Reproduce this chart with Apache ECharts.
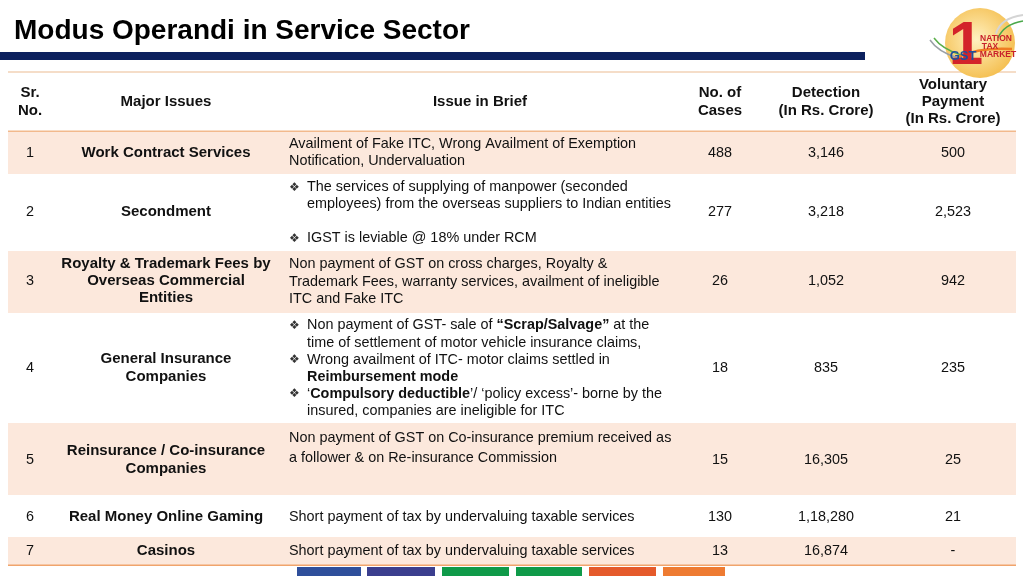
<!DOCTYPE html>
<html><head><meta charset="utf-8">
<script src="https://cdn.jsdelivr.net/npm/echarts@6/dist/echarts.min.js"></script>
<style>html,body{margin:0;padding:0;background:#fff}#c{width:1024px;height:576px}</style>
</head><body><div id="c"></div>
<script>
// ---------- data ----------
const title = 'Modus Operandi in Service Sector';
const headerLabels = ['Sr.\nNo.', 'Major Issues', 'Issue in Brief', 'No. of\nCases', 'Detection\n(In Rs. Crore)', 'Voluntary\nPayment\n(In Rs. Crore)'];
const srNo = ['1', '2', '3', '4', '5', '6', '7'];
const majorIssues = [
  'Work Contract Services',
  'Secondment',
  'Royalty & Trademark Fees by\nOverseas Commercial\nEntities',
  'General Insurance\nCompanies',
  'Reinsurance / Co-insurance\nCompanies',
  'Real Money Online Gaming',
  'Casinos'
];
const issueInBrief = [
  'Availment of Fake ITC, Wrong Availment of Exemption\nNotification, Undervaluation',
  '{bul|❖}The services of supplying of manpower (seconded\n{ind| }employees) from the overseas suppliers to Indian entities\n\n{bul|❖}IGST is leviable @ 18% under RCM',
  'Non payment of GST on cross charges, Royalty &\nTrademark Fees, warranty services, availment of ineligible\nITC and Fake ITC',
  '{bul|❖}Non payment of GST- sale of {b|“Scrap/Salvage”} at the\n{ind| }time of settlement of motor vehicle insurance claims,\n{bul|❖}Wrong availment of ITC- motor claims settled in\n{ind| }{b|Reimbursement mode}\n{bul|❖}‘{b|Compulsory deductible}’/ ‘policy excess’- borne by the\n{ind| }insured, companies are ineligible for ITC',
  'Non payment of GST on Co-insurance premium received as\na follower & on Re-insurance Commission',
  'Short payment of tax by undervaluing taxable services',
  'Short payment of tax by undervaluing taxable services'
];
const noOfCases = ['488', '277', '26', '18', '15', '130', '13'];
const detection = ['3,146', '3,218', '1,052', '835', '16,305', '1,18,280', '16,874'];
const voluntaryPayment = ['500', '2,523', '942', '235', '25', '21', '-'];

// ---------- layout ----------
const TABLE_L = 8, TABLE_R = 1016;
const rowEdges = [131, 174, 251, 313, 423, 495, 537, 565];
const rowMid = [153, 212, 281, 368, 460, 517, 551];
const issueMid = [153, 213, 282, 368.5, 448, 517, 551];
const issueLineH = [17, 17, 17.5, 17.2, 20, 17, 17];
const colX = [30, 166, 289, 720, 826, 953];
const headerX = [30, 166, 480, 720, 826, 953];
const HEADER_Y = 102;
const PEACH = '#fce8dc';
const FONT = 'Liberation Sans';
const FS = 14.4;
const BULLET_W = 18;

function renderRow(params, api) {
  const i = params.dataIndex;
  const p0 = api.coord([TABLE_L, rowEdges[i]]);
  const p1 = api.coord([TABLE_R, rowEdges[i + 1]]);
  const children = [];
  if (i % 2 === 0) {
    children.push({ type: 'rect', shape: { x: p0[0], y: p0[1], width: p1[0] - p0[0], height: p1[1] - p0[1] }, style: { fill: PEACH } });
  }
  const cell = (col, txt, bold, y, extra) => {
    const c = api.coord([colX[col], y]);
    children.push({
      type: 'text', x: c[0], y: c[1],
      style: Object.assign({
        text: txt, fill: '#111', fontFamily: FONT, fontSize: bold ? 15 : FS,
        fontWeight: bold ? 'bold' : 'normal', align: 'center', verticalAlign: 'middle', lineHeight: 17.3
      }, extra || {})
    });
  };
  cell(0, srNo[i], false, rowMid[i]);
  cell(1, majorIssues[i], true, rowMid[i]);
  cell(2, issueInBrief[i], false, issueMid[i], {
    align: 'left', lineHeight: issueLineH[i],
    rich: {
      b: { fontFamily: FONT, fontSize: FS, fontWeight: 'bold', fill: '#111', lineHeight: issueLineH[i] },
      bul: { fontFamily: 'DejaVu Sans', fontSize: 12, fill: '#333', width: BULLET_W, lineHeight: issueLineH[i] },
      ind: { fontFamily: FONT, fontSize: FS, width: BULLET_W, lineHeight: issueLineH[i] }
    }
  });
  cell(3, noOfCases[i], false, rowMid[i]);
  cell(4, detection[i], false, rowMid[i]);
  cell(5, voluntaryPayment[i], false, rowMid[i]);
  return { type: 'group', children };
}

const graphics = [];
graphics.push({ type: 'text', x: 14, y: 31, z: 10, style: { text: title, fontFamily: FONT, fontSize: 28, fontWeight: 'bold', fill: '#000', align: 'left', verticalAlign: 'middle', textAlign: 'left', textVerticalAlign: 'middle' } });
graphics.push({ type: 'rect', z: 10, shape: { x: 0, y: 52, width: 865, height: 8 }, style: { fill: '#0c215e' } });
// table lines
graphics.push({ type: 'rect', z: 10, shape: { x: TABLE_L, y: 71, width: TABLE_R - TABLE_L, height: 2 }, style: { fill: '#f5ddc8' } });
graphics.push({ type: 'rect', z: 10, shape: { x: TABLE_L, y: 130.5, width: TABLE_R - TABLE_L, height: 1.5 }, style: { fill: '#f2b98c' } });
graphics.push({ type: 'rect', z: 10, shape: { x: TABLE_L, y: 564.5, width: TABLE_R - TABLE_L, height: 1.5 }, style: { fill: '#f0a46c' } });
headerLabels.forEach((h, k) => {
  graphics.push({ type: 'text', x: headerX[k], y: HEADER_Y, z: 10, style: { text: h, fontFamily: FONT, fontSize: 15, fontWeight: 'bold', fill: '#111', align: 'center', verticalAlign: 'middle', textAlign: 'center', textVerticalAlign: 'middle', lineHeight: 17.3 } });
});
// bottom colour strips
const strips = [[297, 64, '#2f4f9b'], [367, 68, '#3b3e8e'], [442, 67, '#0f9a49'], [516, 66, '#0f9a49'], [589, 67, '#e55a2b'], [663, 62, '#ee7b32']];
strips.forEach(s => graphics.push({ type: 'rect', z: 10, shape: { x: s[0], y: 567, width: s[1], height: 9 }, style: { fill: s[2] } }));
// logo
graphics.push({ type: 'bezierCurve', z: 20, shape: { x1: 1023, y1: 15, x2: 996, y2: 34, cpx1: 1000, cpy1: 18 }, style: { stroke: '#d4d4d4', lineWidth: 2, fill: null } });
graphics.push({ type: 'bezierCurve', z: 20, shape: { x1: 1023, y1: 21, x2: 998, y2: 38, cpx1: 1004, cpy1: 24 }, style: { stroke: '#4aa84a', lineWidth: 1.5, fill: null } });
graphics.push({ type: 'circle', z: 19, shape: { cx: 980, cy: 43, r: 35 }, style: { fill: { type: 'radial', x: 0.45, y: 0.45, r: 0.6, colorStops: [{ offset: 0, color: '#fff1c0' }, { offset: 1, color: '#f4bd4c' }] } } });
graphics.push({ type: 'bezierCurve', z: 21, shape: { x1: 930, y1: 40, x2: 958, y2: 58, cpx1: 938, cpy1: 52 }, style: { stroke: '#9aa0a6', lineWidth: 1.5, fill: null } });
graphics.push({ type: 'bezierCurve', z: 21, shape: { x1: 934, y1: 38, x2: 961, y2: 55, cpx1: 942, cpy1: 49 }, style: { stroke: '#5aae4a', lineWidth: 1.5, fill: null } });
graphics.push({ type: 'bezierCurve', z: 21, shape: { x1: 958, y1: 57, x2: 1012, y2: 49, cpx1: 980, cpy1: 47 }, style: { stroke: '#ef7d22', lineWidth: 2.5, fill: null } });
graphics.push({ type: 'text', x: 966, y: 47, z: 22, style: { text: '1', fontFamily: FONT, fontSize: 62, fontWeight: 'bold', fill: '#d3232a', align: 'center', verticalAlign: 'middle', textAlign: 'center', textVerticalAlign: 'middle' } });
graphics.push({ type: 'text', x: 996, y: 39, z: 22, style: { text: 'NATION', fontFamily: FONT, fontSize: 8.5, fontWeight: 'bold', fill: '#c8202a', align: 'center', verticalAlign: 'middle', textAlign: 'center', textVerticalAlign: 'middle' } });
graphics.push({ type: 'text', x: 990, y: 46.5, z: 22, style: { text: 'TAX', fontFamily: FONT, fontSize: 8.5, fontWeight: 'bold', fill: '#c8202a', align: 'center', verticalAlign: 'middle', textAlign: 'center', textVerticalAlign: 'middle' } });
graphics.push({ type: 'text', x: 998, y: 54.5, z: 22, style: { text: 'MARKET', fontFamily: FONT, fontSize: 8.5, fontWeight: 'bold', fill: '#c8202a', align: 'center', verticalAlign: 'middle', textAlign: 'center', textVerticalAlign: 'middle' } });
graphics.push({ type: 'text', x: 963, y: 56.5, z: 23, style: { text: 'GST', fontFamily: FONT, fontSize: 13, fontWeight: 'bold', fill: '#1d4f9e', align: 'center', verticalAlign: 'middle', textAlign: 'center', textVerticalAlign: 'middle' } });

const chart = echarts.init(document.getElementById('c'), null, { renderer: 'canvas' });
chart.setOption({
  animation: false,
  backgroundColor: '#ffffff',
  grid: { left: 0, right: 0, top: 0, bottom: 0 },
  xAxis: { type: 'value', min: 0, max: 1024, show: false },
  yAxis: { type: 'value', min: 0, max: 576, inverse: true, show: false },
  graphic: { elements: graphics },
  series: [{
    type: 'custom',
    coordinateSystem: 'cartesian2d',
    renderItem: renderRow,
    data: srNo.map((s, i) => [colX[0], rowMid[i]]),
    silent: true,
    z: 2
  }]
});
</script></body></html>
